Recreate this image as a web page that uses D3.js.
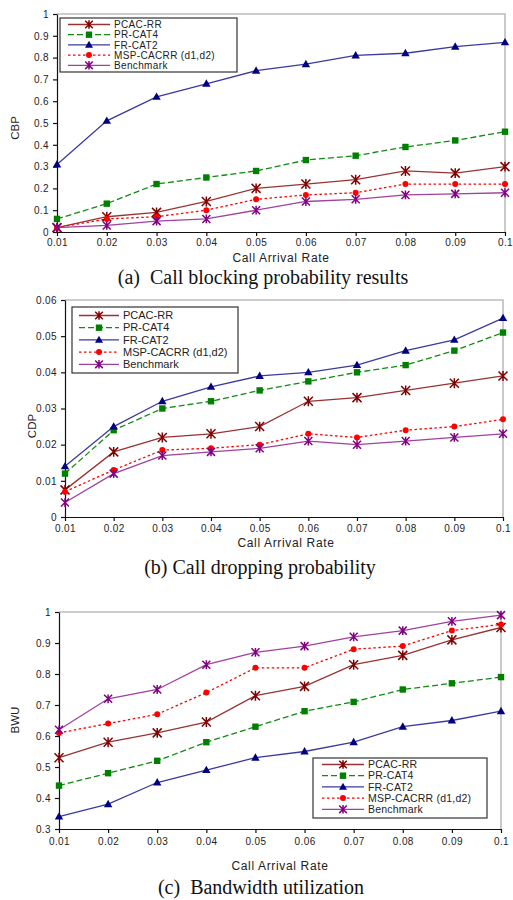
<!DOCTYPE html>
<html>
<head>
<meta charset="utf-8">
<script src="https://cdn.jsdelivr.net/npm/d3@7"></script>
<style>
  body { margin: 0; background: #fff; }
  svg { display: block; }
  .tick text { font-family: "Liberation Sans", Arial, sans-serif; font-size: 10px; letter-spacing: 0.4px; fill: #222; }
  .domain, .tick line { stroke: #111; stroke-width: 1.2; }
</style>
</head>
<body>
<div id="chart"></div>
<script>
// x values shared by all three panels
var arrivalRates = [0.01, 0.02, 0.03, 0.04, 0.05, 0.06, 0.07, 0.08, 0.09, 0.1];
var xTickLabels = ["0.01", "0.02", "0.03", "0.04", "0.05", "0.06", "0.07", "0.08", "0.09", "0.1"];
var seriesNames = ["PCAC-RR", "PR-CAT4", "FR-CAT2", "MSP-CACRR (d1,d2)", "Benchmark"];

// (a) call blocking probability
var cbpPCAC  = [0.02, 0.07, 0.09, 0.14, 0.20, 0.22, 0.24, 0.28, 0.27, 0.30];
var cbpPR    = [0.06, 0.13, 0.22, 0.25, 0.28, 0.33, 0.35, 0.39, 0.42, 0.46];
var cbpFR    = [0.31, 0.51, 0.62, 0.68, 0.74, 0.77, 0.81, 0.82, 0.85, 0.87];
var cbpMSP   = [0.02, 0.06, 0.07, 0.10, 0.15, 0.17, 0.18, 0.22, 0.22, 0.22];
var cbpBench = [0.02, 0.03, 0.05, 0.06, 0.10, 0.14, 0.15, 0.17, 0.175, 0.18];
var cbpTicks = [0, 0.1, 0.2, 0.3, 0.4, 0.5, 0.6, 0.7, 0.8, 0.9, 1];

// (b) call dropping probability
var cdpPCAC  = [0.0075, 0.018, 0.022, 0.023, 0.025, 0.032, 0.033, 0.035, 0.037, 0.039];
var cdpPR    = [0.012, 0.024, 0.030, 0.032, 0.035, 0.0375, 0.040, 0.042, 0.046, 0.051];
var cdpFR    = [0.014, 0.025, 0.032, 0.036, 0.039, 0.040, 0.042, 0.046, 0.049, 0.055];
var cdpMSP   = [0.007, 0.013, 0.0185, 0.019, 0.020, 0.023, 0.022, 0.024, 0.025, 0.027];
var cdpBench = [0.004, 0.012, 0.017, 0.018, 0.019, 0.021, 0.020, 0.021, 0.022, 0.023];
var cdpTicks = [0, 0.01, 0.02, 0.03, 0.04, 0.05, 0.06];

// (c) bandwidth utilization
var bwuPCAC  = [0.53, 0.58, 0.61, 0.645, 0.73, 0.76, 0.83, 0.86, 0.91, 0.95];
var bwuPR    = [0.44, 0.48, 0.52, 0.58, 0.63, 0.68, 0.71, 0.75, 0.77, 0.79];
var bwuFR    = [0.34, 0.38, 0.45, 0.49, 0.53, 0.55, 0.58, 0.63, 0.65, 0.68];
var bwuMSP   = [0.61, 0.64, 0.67, 0.74, 0.82, 0.82, 0.88, 0.89, 0.94, 0.96];
var bwuBench = [0.62, 0.72, 0.75, 0.83, 0.87, 0.89, 0.92, 0.94, 0.97, 0.99];
var bwuTicks = [0.3, 0.4, 0.5, 0.6, 0.7, 0.8, 0.9, 1];

// line + marker look for each series (same order as seriesNames)
var styles = [
  {line: "#993333", mark: "#800000", dash: null,  shape: "star", size: 4.5},
  {line: "#108a10", mark: "#008000", dash: "6,3", shape: "square", size: 3.2},
  {line: "#3a3aa0", mark: "#000080", dash: null,  shape: "triangle", size: 4},
  {line: "#ff0000", mark: "#ff0000", dash: "2.5,2.5", shape: "circle", size: 3},
  {line: "#a040a0", mark: "#800080", dash: null,  shape: "star", size: 4}
];

var svg = d3.select("#chart").append("svg")
    .attr("width", 513)
    .attr("height", 900);

function drawMarker(g, shape, cx, cy, r, color) {
  if (shape == "star") {
    g.append("path")
      .attr("d", "M" + (cx - r) + "," + (cy - r) + "L" + (cx + r) + "," + (cy + r) +
                 "M" + (cx - r) + "," + (cy + r) + "L" + (cx + r) + "," + (cy - r) +
                 "M" + cx + "," + (cy - r * 1.1) + "L" + cx + "," + (cy + r * 1.1))
      .attr("stroke", color).attr("stroke-width", 1.5).attr("fill", "none");
  } else if (shape == "square") {
    g.append("rect")
      .attr("x", cx - r).attr("y", cy - r)
      .attr("width", 2 * r).attr("height", 2 * r)
      .attr("fill", color);
  } else if (shape == "triangle") {
    g.append("path")
      .attr("d", "M" + cx + "," + (cy - r * 1.1) + "L" + (cx + r * 1.05) + "," + (cy + r * 0.75) +
                 "L" + (cx - r * 1.05) + "," + (cy + r * 0.75) + "Z")
      .attr("fill", color);
  } else {
    g.append("circle").attr("cx", cx).attr("cy", cy).attr("r", r).attr("fill", color);
  }
}

function drawPanel(p) {
  var x = d3.scaleLinear().domain([0.01, 0.1]).range([p.left, p.right]);
  var y = d3.scaleLinear().domain([p.yTicks[0], p.yTicks[p.yTicks.length - 1]]).range([p.bottom, p.top]);

  var g = svg.append("g");

  // grey frame on top and right, Excel style
  g.append("path")
    .attr("d", "M" + p.left + "," + p.top + "H" + p.right + "V" + p.bottom)
    .attr("stroke", "#bdbdbd").attr("stroke-width", 1.6).attr("fill", "none");

  var xAxis = d3.axisBottom(x).tickValues(arrivalRates)
      .tickFormat(function(d, i) { return xTickLabels[i]; })
      .tickSizeInner(4).tickSizeOuter(0).tickPadding(p.xPad);
  var yAxis = d3.axisLeft(y).tickValues(p.yTicks)
      .tickFormat(function(d) { return d3.format("~g")(d); })
      .tickSizeInner(4).tickSizeOuter(0).tickPadding(4);

  g.append("g").attr("class", "x axis")
    .attr("transform", "translate(0," + p.bottom + ")")
    .call(xAxis);
  g.append("g").attr("class", "y axis")
    .attr("transform", "translate(" + p.left + ",0)")
    .call(yAxis);

  g.append("text")
    .attr("x", (p.left + p.right) / 2 + p.titleShift)
    .attr("y", p.titleY)
    .attr("text-anchor", "middle")
    .style("font-family", "Liberation Sans, Arial, sans-serif")
    .style("font-size", "12px").style("letter-spacing", "0.65px").style("fill", "#222")
    .text("Call Arrival Rate");

  g.append("text")
    .attr("transform", "translate(" + p.yLabelX + "," + p.yLabelY + ") rotate(-90)")
    .attr("text-anchor", "middle")
    .style("font-family", "Liberation Sans, Arial, sans-serif")
    .style("font-size", "11.5px").style("fill", "#222")
    .text(p.yLabel);

  g.append("text")
    .attr("x", p.captionX)
    .attr("y", p.captionY)
    .attr("text-anchor", "middle")
    .style("font-family", "Liberation Serif, Times New Roman, serif")
    .style("font-size", "20px").style("fill", "#111")
    .style("white-space", "pre")
    .text(p.caption);

  // lines first, then markers on top
  p.series.forEach(function(vals, k) {
    var st = styles[k];
    var line = d3.line()
        .x(function(d, i) { return x(arrivalRates[i]); })
        .y(function(d) { return y(d); });
    g.append("path")
      .datum(vals)
      .attr("d", line)
      .attr("fill", "none")
      .attr("stroke", st.line)
      .attr("stroke-width", 1.3)
      .attr("stroke-dasharray", st.dash);
  });
  p.series.forEach(function(vals, k) {
    var st = styles[k];
    var mg = g.append("g");
    vals.forEach(function(d, i) {
      drawMarker(mg, st.shape, x(arrivalRates[i]), y(d), st.size, st.mark);
    });
  });

  // legend
  var L = p.legend;
  g.append("rect")
    .attr("x", L.x).attr("y", L.y).attr("width", L.w).attr("height", L.h)
    .attr("fill", "#fff").attr("stroke", "#333").attr("stroke-width", 1.2);
  seriesNames.forEach(function(name, k) {
    var st = styles[k];
    var ly = L.y + L.first + k * L.step;
    g.append("line")
      .attr("x1", L.x + L.lineStart).attr("x2", L.x + L.lineStart + L.lineLen)
      .attr("y1", ly).attr("y2", ly)
      .attr("stroke", st.line).attr("stroke-width", 1.3)
      .attr("stroke-dasharray", st.dash);
    drawMarker(g, st.shape, L.x + L.lineStart + L.lineLen / 2, ly, Math.min(st.size, 3.8), st.mark);
    g.append("text")
      .attr("x", L.x + L.lineStart + L.lineLen + 4)
      .attr("y", ly + 3.6)
      .style("font-family", "Liberation Sans, Arial, sans-serif")
      .style("font-size", L.font + "px").style("letter-spacing", L.spacing + "px").style("fill", "#222")
      .text(name);
  });
}

drawPanel({
  left: 57, right: 505, top: 14, bottom: 232,
  yTicks: cbpTicks, yLabel: "CBP", yLabelX: 19, yLabelY: 128,
  series: [cbpPCAC, cbpPR, cbpFR, cbpMSP, cbpBench],
  xPad: 3, titleY: 261.5, titleShift: 0,
  caption: "(a)  Call blocking probability results", captionX: 263, captionY: 283.5,
  legend: {x: 60, y: 18, w: 177, h: 54, first: 6.5, step: 10.2, lineStart: 8, lineLen: 42, font: 10, spacing: 0.35}
});

drawPanel({
  left: 65, right: 503, top: 300, bottom: 517,
  yTicks: cdpTicks, yLabel: "CDP", yLabelX: 36, yLabelY: 426,
  series: [cdpPCAC, cdpPR, cdpFR, cdpMSP, cdpBench],
  xPad: 4, titleY: 547, titleShift: 2,
  caption: "(b) Call dropping probability", captionX: 260, captionY: 574,
  legend: {x: 72, y: 307, w: 166, h: 66, first: 8.5, step: 12.2, lineStart: 7, lineLen: 40, font: 11, spacing: 0}
});

drawPanel({
  left: 59, right: 501, top: 612, bottom: 829,
  yTicks: bwuTicks, yLabel: "BWU", yLabelX: 19, yLabelY: 720,
  series: [bwuPCAC, bwuPR, bwuFR, bwuMSP, bwuBench],
  xPad: 5, titleY: 870, titleShift: 0,
  caption: "(c)  Bandwidth utilization", captionX: 261, captionY: 894,
  legend: {x: 313, y: 758, w: 174, h: 60, first: 6.5, step: 11.2, lineStart: 9, lineLen: 42, font: 10.5, spacing: 0.2}
});
</script>
</body>
</html>
